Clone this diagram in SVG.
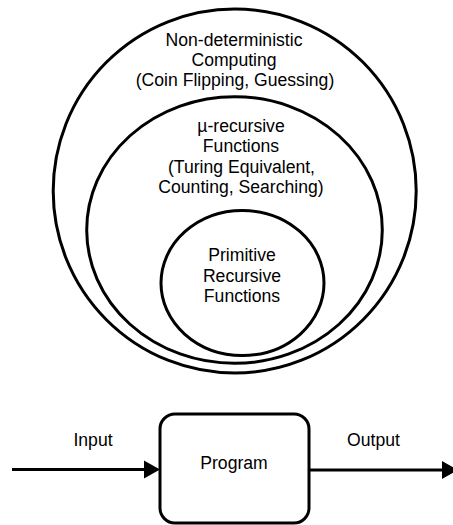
<svg xmlns="http://www.w3.org/2000/svg" width="453" height="525" viewBox="0 0 453 525">
<style>
.shape{fill:none;stroke:#000;stroke-width:3}
.t{font-family:"Liberation Sans",Arial,Helvetica,sans-serif;font-size:17.6px;fill:#000;text-anchor:middle}
.line{stroke:#000;stroke-width:3;fill:none}
.head{fill:#000;stroke:none}
</style>
<rect width="453" height="525" fill="#fff"/>
<g id="nondeterministic">
<ellipse class="shape" cx="234.7" cy="191" rx="181.5" ry="182"/>
<text class="t" x="234" y="45.7">Non-deterministic</text>
<text class="t" x="234" y="66">Computing</text>
<text class="t" x="235" y="86.3">(Coin Flipping, Guessing)</text>
</g>
<g id="murecursive">
<ellipse class="shape" cx="234.5" cy="230" rx="147.8" ry="133.3"/>
<text class="t" x="241" y="131.7">µ-recursive</text>
<text class="t" x="241" y="152.3">Functions</text>
<text class="t" x="241.5" y="172.7">(Turing Equivalent,</text>
<text class="t" x="241" y="193.3">Counting, Searching)</text>
</g>
<g id="primitive">
<ellipse class="shape" cx="242.5" cy="283" rx="81.5" ry="72.5"/>
<text class="t" x="242" y="261">Primitive</text>
<text class="t" x="242" y="281.7">Recursive</text>
<text class="t" x="242" y="302.3">Functions</text>
</g>
<g id="program">
<rect class="shape" x="160" y="414" width="149" height="109" rx="15" ry="15"/>
<text class="t" x="234" y="469.3">Program</text>
</g>
<g id="connectors">
<line class="line" x1="12" y1="469.5" x2="146" y2="469.5"/>
<polygon class="head" points="144,460.5 160,469.5 144,478.5"/>
<line class="line" x1="309" y1="470" x2="444" y2="470"/>
<polygon class="head" points="442,461 458,470 442,479"/>
<text class="t" x="93" y="445.7">Input</text>
<text class="t" x="373.5" y="445.7">Output</text>
</g>
</svg>
